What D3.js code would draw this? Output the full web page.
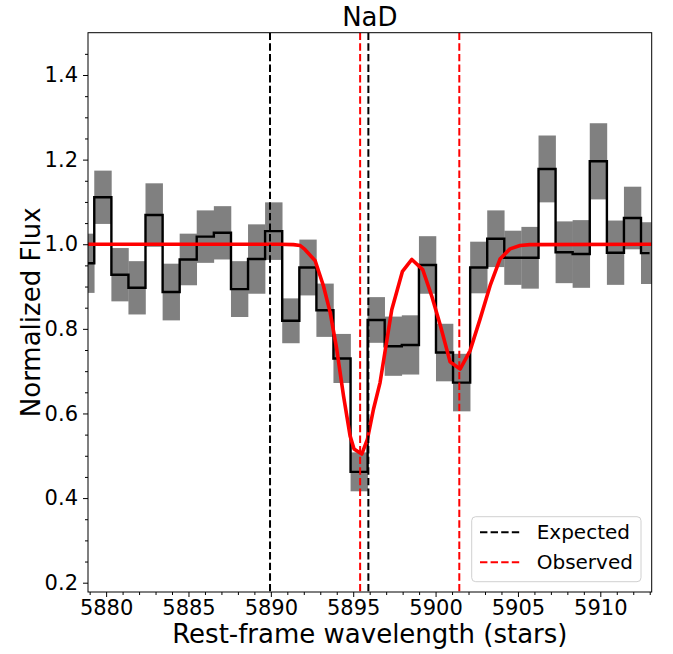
<!DOCTYPE html>
<html>
<head>
<meta charset="utf-8">
<script src="https://cdn.jsdelivr.net/npm/d3@7"></script>
<style>
  body { margin: 0; background: #fff; }
  text { font-family: "DejaVu Sans", sans-serif; fill: #000; }
</style>
</head>
<body>
<svg id="chart"></svg>
<script>
// binned spectrum (bin centres, rest frame)
const wave = [5878.76, 5879.80, 5880.84, 5881.87, 5882.91, 5883.95, 5884.98, 5886.02, 5887.06, 5888.10,
              5889.13, 5890.17, 5891.21, 5892.25, 5893.28, 5894.32, 5895.36, 5896.39, 5897.43, 5898.47,
              5899.51, 5900.54, 5901.58, 5902.62, 5903.65, 5904.69, 5905.73, 5906.77, 5907.80, 5908.84,
              5909.88, 5910.92, 5911.95, 5912.99]
const flux = [0.955, 1.111, 0.928, 0.897, 1.069, 0.887, 0.964, 1.018, 1.027, 0.894,
              0.965, 1.031, 0.819, 0.945, 0.844, 0.730, 0.462, 0.821, 0.759, 0.762,
              0.951, 0.744, 0.673, 0.945, 1.013, 0.968, 0.968, 1.178, 0.981, 0.977,
              1.196, 0.980, 1.062, 0.979]
const fluxErr = [0.070, 0.063, 0.063, 0.063, 0.075, 0.067, 0.061, 0.062, 0.063, 0.066,
                 0.082, 0.068, 0.053, 0.066, 0.063, 0.058, 0.046, 0.054, 0.070, 0.070,
                 0.068, 0.068, 0.068, 0.061, 0.067, 0.064, 0.073, 0.079, 0.073, 0.080,
                 0.090, 0.076, 0.074, 0.073]

// fitted model
const modelWave = [5878.9, 5890.56, 5891.37, 5891.78, 5892.08, 5892.69, 5893.19, 5893.60, 5894.00, 5894.41,
                   5894.81, 5895.05, 5895.52, 5895.86, 5896.23, 5896.63, 5897.34, 5897.99, 5898.56, 5899.22,
                   5899.77, 5900.27, 5900.88, 5901.49, 5902.09, 5902.70, 5903.31, 5903.91, 5904.52, 5905.13,
                   5905.73, 5913.12]
const modelFlux = [1.0, 1.0, 0.999, 0.997, 0.987, 0.961, 0.902, 0.839, 0.752, 0.642,
                   0.547, 0.516, 0.504, 0.539, 0.610, 0.673, 0.845, 0.936, 0.964, 0.940,
                   0.877, 0.811, 0.722, 0.705, 0.748, 0.823, 0.902, 0.965, 0.989, 0.997,
                   0.999, 1.0]

const expectedLines = [5889.95, 5895.92]
const observedLines = [5895.42, 5901.44]

const xTicks = [5880, 5885, 5890, 5895, 5900, 5905, 5910]
const yTicks = [0.2, 0.4, 0.6, 0.8, 1.0, 1.2, 1.4]
const legendLabels = ['Expected', 'Observed']

const config = {
    containerWidth: 673,
    containerHeight: 654,
    margin: {top: 32.7, right: 21.3, bottom: 62, left: 88}
}
const width = config.containerWidth - config.margin.left - config.margin.right
const height = config.containerHeight - config.margin.top - config.margin.bottom

const svg = d3.select('#chart')
    .attr('width', config.containerWidth)
    .attr('height', config.containerHeight)

const chart = svg.append('g')
    .attr('transform', `translate(${config.margin.left},${config.margin.top})`)

const xScale = d3.scaleLinear().domain([5878.9, 5913.12]).range([0, width])
const yScale = d3.scaleLinear().domain([0.178, 1.5]).range([height, 0])

chart.append('clipPath').attr('id', 'clip')
    .append('rect').attr('width', width).attr('height', height)

const plot = chart.append('g').attr('clip-path', 'url(#clip)')

const spec = wave.map((w, i) => ({w: w, f: flux[i], e: fluxErr[i]}))

// bin edges halfway between centres
const edges = spec.map((d, i) => {
    const prev = i > 0 ? wave[i - 1] : 2 * wave[0] - wave[1]
    const next = i < wave.length - 1 ? wave[i + 1] : 2 * wave[i] - wave[i - 1]
    return [(prev + d.w) / 2, (d.w + next) / 2]
})

plot.selectAll('.err')
    .data(spec)
    .join('rect')
        .attr('class', 'err')
        .attr('x', (d, i) => xScale(edges[i][0]))
        .attr('width', (d, i) => xScale(edges[i][1]) - xScale(edges[i][0]) + 0.3)
        .attr('y', d => yScale(d.f + d.e))
        .attr('height', d => yScale(d.f - d.e) - yScale(d.f + d.e))
        .attr('fill', '#808080')

plot.append('path')
    .datum(spec)
    .attr('fill', 'none')
    .attr('stroke', '#000')
    .attr('stroke-width', 2.4)
    .attr('d', d3.line().x(d => xScale(d.w)).y(d => yScale(d.f)).curve(d3.curveStep))

plot.append('path')
    .datum(modelWave.map((w, i) => [w, modelFlux[i]]))
    .attr('fill', 'none')
    .attr('stroke', '#ff0000')
    .attr('stroke-width', 3.6)
    .attr('stroke-linejoin', 'round')
    .attr('d', d3.line().x(d => xScale(d[0])).y(d => yScale(d[1])))

plot.selectAll('.expected')
    .data(expectedLines)
    .join('line')
        .attr('class', 'expected')
        .attr('x1', d => xScale(d)).attr('x2', d => xScale(d))
        .attr('y1', 0).attr('y2', height)
        .attr('stroke', '#000').attr('stroke-width', 2)
        .attr('stroke-dasharray', '7.4,3.2')

plot.selectAll('.observed')
    .data(observedLines)
    .join('line')
        .attr('class', 'observed')
        .attr('x1', d => xScale(d)).attr('x2', d => xScale(d))
        .attr('y1', 0).attr('y2', height)
        .attr('stroke', '#ff0000').attr('stroke-width', 2)
        .attr('stroke-dasharray', '7.4,3.2')

// axes
const xAxis = d3.axisBottom(xScale).tickValues(xTicks).tickSize(5).tickPadding(3).tickFormat(d3.format('d'))
const xMinor = d3.axisBottom(xScale).tickValues(xScale.ticks(35).filter(t => !xTicks.includes(t))).tickSize(3).tickFormat('')
const yAxis = d3.axisLeft(yScale).tickValues(yTicks).tickSize(5).tickPadding(5).tickFormat(d3.format('.1f'))
const yMinor = d3.axisLeft(yScale).tickValues(d3.range(0.2, 1.5, 0.05).filter((t, i) => i % 4 !== 0)).tickSize(3).tickFormat('')

const xAxisG = chart.append('g').attr('transform', `translate(0,${height})`).call(xAxis)
chart.append('g').attr('transform', `translate(0,${height})`).call(xMinor)
const yAxisG = chart.append('g').call(yAxis)
chart.append('g').call(yMinor)

chart.selectAll('.domain').remove()
chart.selectAll('.tick line').attr('stroke', '#000').attr('stroke-width', 1)
xAxisG.selectAll('.tick text').attr('font-size', 21).attr('dy', '0.71em')
yAxisG.selectAll('.tick text').attr('font-size', 21)

chart.append('rect')
    .attr('width', width).attr('height', height)
    .attr('fill', 'none').attr('stroke', '#000').attr('stroke-width', 1)

// labels
svg.append('text')
    .attr('x', config.margin.left + width / 2).attr('y', 26)
    .attr('text-anchor', 'middle').attr('font-size', 26)
    .text('NaD')

svg.append('text')
    .attr('x', config.margin.left + width / 2).attr('y', 643)
    .attr('text-anchor', 'middle').attr('font-size', 26)
    .text('Rest-frame wavelength (stars)')

svg.append('text')
    .attr('transform', `translate(40,${config.margin.top + height / 2}) rotate(-90)`)
    .attr('text-anchor', 'middle').attr('font-size', 26)
    .text('Normalized Flux')

// legend
const legend = svg.append('g').attr('transform', 'translate(471.7,516.7)')
legend.append('rect')
    .attr('width', 169.3).attr('height', 65)
    .attr('rx', 4)
    .attr('fill', '#fff').attr('fill-opacity', 0.8)
    .attr('stroke', '#d0d0d0')

legend.selectAll('.leg-line')
    .data(legendLabels)
    .join('line')
        .attr('class', 'leg-line')
        .attr('x1', 8.3).attr('x2', 48.3)
        .attr('y1', (d, i) => 15.6 + i * 30).attr('y2', (d, i) => 15.6 + i * 30)
        .attr('stroke', (d, i) => i === 0 ? '#000' : '#ff0000')
        .attr('stroke-width', 2)
        .attr('stroke-dasharray', '7.4,3.2')

legend.selectAll('.leg-text')
    .data(legendLabels)
    .join('text')
        .attr('class', 'leg-text')
        .attr('x', 65).attr('y', (d, i) => 15.6 + i * 30)
        .attr('dy', '0.35em')
        .attr('font-size', 20)
        .text(d => d)
</script>
</body>
</html>
